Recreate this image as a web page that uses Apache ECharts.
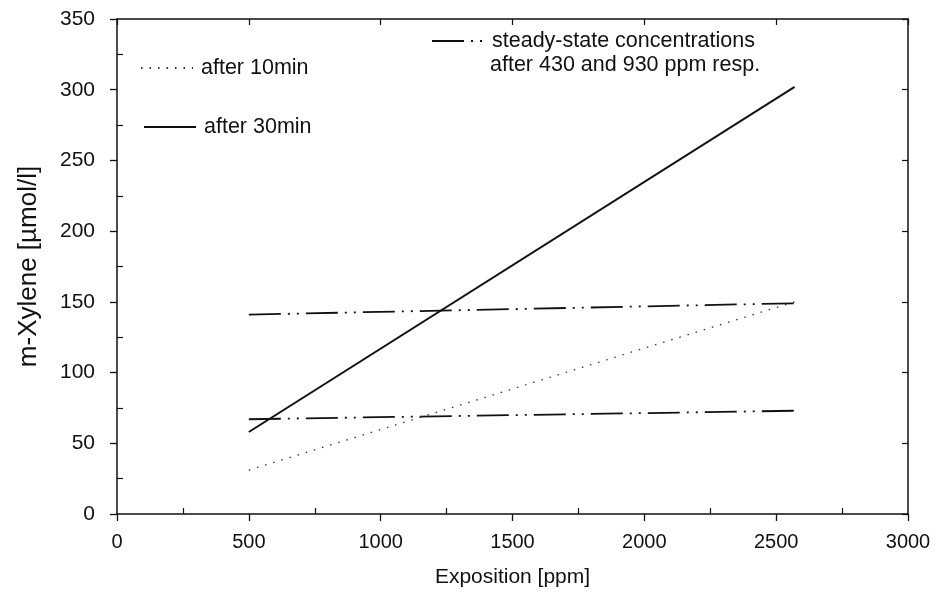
<!DOCTYPE html>
<html>
<head>
<meta charset="utf-8">
<script src="https://cdn.jsdelivr.net/npm/echarts@6/dist/echarts.min.js"></script>
<style>
  html, body { margin: 0; padding: 0; background: #fff; }
  #chart { width: 938px; height: 601px; }
</style>
</head>
<body>
<div id="chart"></div>
<script>
// data
let exposures = [500, 2570]
let after10 = [31, 150]
let after30 = [58, 302]
let steadyLow = [67, 73]
let steadyHigh = [141, 149]
let xMinorTicks = [250, 750, 1250, 1750, 2250, 2750]
let yMinorTicks = [25, 75, 125, 175, 225, 275, 325]

function pairs (ys) {
  return exposures.map((x, i) => [x, ys[i]])
}

let font = 'Liberation Sans, Arial, sans-serif'
let ink = '#111'
let gridBox = { left: 117, right: 30, top: 19, bottom: 87 }

let chart = echarts.init(document.getElementById('chart'))

let axisBase = {
  type: 'value',
  splitLine: { show: false },
  axisLine: { show: true, onZero: false, lineStyle: { color: ink, width: 1.5 } }
}

let legendBase = {
  itemWidth: 52, itemHeight: 14, itemGap: 11,
  itemStyle: { opacity: 0 },
  textStyle: { fontFamily: font, fontSize: 21.5, color: ink, padding: [0, 0, 0, 3] }
}

let option = {
  animation: false,
  backgroundColor: '#fff',
  // grid 0 carries the frame, grid 1 only the inward minor ticks
  grid: [Object.assign({}, gridBox), Object.assign({}, gridBox)],
  legend: [
    Object.assign({}, legendBase, { left: 135, top: 52, data: ['after 10min'] }),
    Object.assign({}, legendBase, { left: 138, top: 111, data: ['after 30min'] }),
    Object.assign({}, legendBase, { left: 426, top: 25, itemWidth: 52, data: ['steady-state concentrations'] })
  ],
  graphic: [
    {
      type: 'text', left: 490, top: 54,
      style: { text: 'after 430 and 930 ppm resp.', font: '21.5px ' + font, fill: ink }
    }
  ],
  xAxis: [
    Object.assign({}, axisBase, {
      gridIndex: 0, min: 0, max: 3000, interval: 500, position: 'bottom',
      name: 'Exposition [ppm]', nameLocation: 'middle', nameGap: 53,
      nameTextStyle: { fontFamily: font, fontSize: 21, color: ink },
      axisTick: { show: true, inside: false, length: 7, lineStyle: { color: ink, width: 1.3 } },
      axisLabel: { fontFamily: font, fontSize: 20, color: ink, margin: 18, formatter: v => String(v) }
    }),
    Object.assign({}, axisBase, {
      gridIndex: 0, min: 0, max: 3000, interval: 500, position: 'top',
      axisTick: { show: true, inside: true, length: 6, lineStyle: { color: ink, width: 1.2 } },
      axisLabel: { show: false }
    }),
    Object.assign({}, axisBase, {
      gridIndex: 1, min: 0, max: 3000, position: 'bottom',
      axisLine: { show: false },
      axisTick: { show: true, inside: true, length: 6, customValues: xMinorTicks, lineStyle: { color: ink, width: 1.2 } },
      axisLabel: { show: false }
    })
  ],
  yAxis: [
    Object.assign({}, axisBase, {
      gridIndex: 0, min: 0, max: 350, interval: 50, position: 'left',
      name: 'm-Xylene [µmol/l]', nameLocation: 'middle', nameGap: 75,
      nameTextStyle: { fontFamily: font, fontSize: 26, color: ink },
      axisTick: { show: true, inside: false, length: 7, lineStyle: { color: ink, width: 1.3 } },
      axisLabel: { fontFamily: font, fontSize: 21, color: ink, margin: 22 }
    }),
    Object.assign({}, axisBase, {
      gridIndex: 0, min: 0, max: 350, interval: 50, position: 'right',
      axisTick: { show: true, inside: true, length: 6, lineStyle: { color: ink, width: 1.2 } },
      axisLabel: { show: false }
    }),
    Object.assign({}, axisBase, {
      gridIndex: 1, min: 0, max: 350, position: 'left',
      axisLine: { show: false },
      axisTick: { show: true, inside: true, length: 6, customValues: yMinorTicks, lineStyle: { color: ink, width: 1.2 } },
      axisLabel: { show: false }
    })
  ],
  series: [
    {
      name: 'after 10min', type: 'line', symbol: 'none',
      itemStyle: { color: '#333' },
      lineStyle: { color: '#333', width: 1.3, type: [1.5, 7] },
      data: pairs(after10)
    },
    {
      name: 'after 30min', type: 'line', symbol: 'none',
      itemStyle: { color: ink },
      lineStyle: { color: ink, width: 2 },
      data: pairs(after30)
    },
    {
      name: 'steady-state concentrations', type: 'line', symbol: 'none',
      itemStyle: { color: ink },
      lineStyle: { color: ink, width: 1.8, type: [32, 7, 2, 7, 2, 7] },
      data: pairs(steadyLow)
    },
    {
      name: 'steady-state concentrations', type: 'line', symbol: 'none',
      itemStyle: { color: ink },
      lineStyle: { color: ink, width: 1.8, type: [32, 7, 2, 7, 2, 7] },
      data: pairs(steadyHigh)
    }
  ]
}

chart.setOption(option)
</script>
</body>
</html>
